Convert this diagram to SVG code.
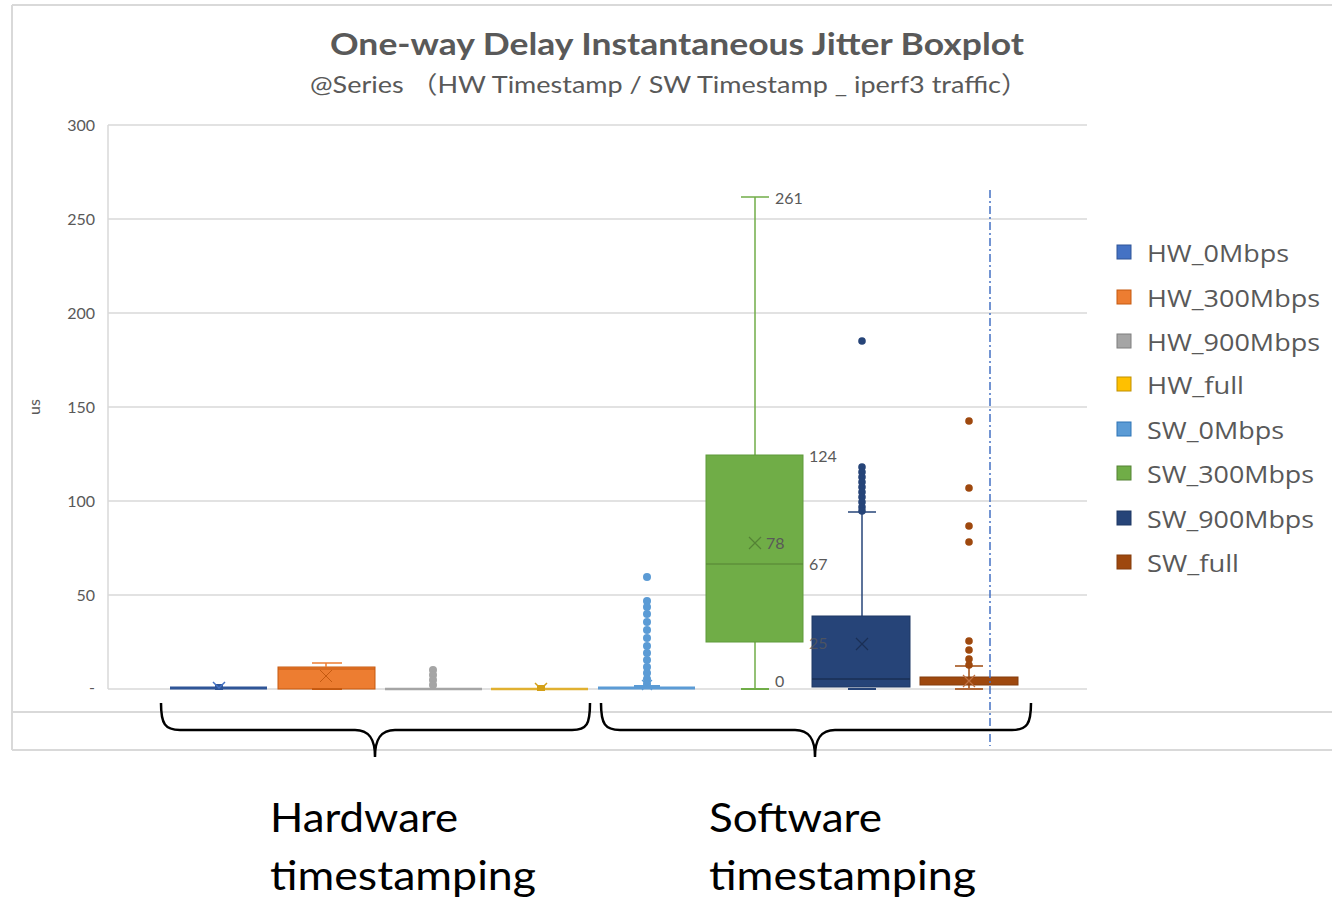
<svg xmlns="http://www.w3.org/2000/svg" width="1332" height="899" viewBox="0 0 1332 899">
<style>
.grid{stroke:#D9D9D9;stroke-width:1.5}
.frame{stroke:#D9D9D9;stroke-width:2;fill:none}
.tick{font-family:Lato,"Open Sans",sans-serif;font-size:16px;fill:#595959;text-anchor:end}
.lbl{font-family:Lato,"Open Sans",sans-serif;font-size:16px;fill:#595959}
.leg{font-family:"Open Sans",Lato,sans-serif;font-size:24px;fill:#595959}
.big{font-family:Lato,"Open Sans",sans-serif;font-size:40px;fill:#000}
.brace{fill:none;stroke:#000;stroke-width:2.5}
</style>
<rect width="1332" height="899" fill="#fff"/>
<g id="frame">
<line class="frame" x1="12" y1="5" x2="1332" y2="5"/>
<line class="frame" x1="12" y1="5" x2="12" y2="750"/>
<line class="frame" x1="12" y1="712" x2="1332" y2="712"/>
<line class="frame" x1="12" y1="750" x2="1332" y2="750"/>
</g>
<g id="title">
<text x="677" y="55" text-anchor="middle" font-family="Lato,'Open Sans',sans-serif" font-size="30" font-weight="bold" fill="#595959" textLength="694" lengthAdjust="spacingAndGlyphs">One-way Delay Instantaneous Jitter Boxplot</text>
<text x="669" y="93" text-anchor="middle" font-family="Lato,'Noto Sans CJK SC',sans-serif" font-size="24" fill="#595959" textLength="718" lengthAdjust="spacingAndGlyphs">@Series （HW Timestamp / SW Timestamp _  iperf3 traffic）</text>
</g>
<g id="axes">
<line class="grid" x1="108" y1="125" x2="1087" y2="125"/>
<line class="grid" x1="108" y1="219" x2="1087" y2="219"/>
<line class="grid" x1="108" y1="313" x2="1087" y2="313"/>
<line class="grid" x1="108" y1="407" x2="1087" y2="407"/>
<line class="grid" x1="108" y1="501" x2="1087" y2="501"/>
<line class="grid" x1="108" y1="595" x2="1087" y2="595"/>
<line class="grid" x1="108" y1="689" x2="1087" y2="689"/>
<line class="grid" x1="108" y1="125" x2="108" y2="689"/>
<text class="tick" x="95" y="131">300</text>
<text class="tick" x="95" y="225">250</text>
<text class="tick" x="95" y="319">200</text>
<text class="tick" x="95" y="413">150</text>
<text class="tick" x="95" y="507">100</text>
<text class="tick" x="95" y="601">50</text>
<text class="tick" x="95" y="693">-</text>
<text class="lbl" transform="translate(40,407) rotate(-90)" text-anchor="middle">us</text>
</g>
<g id="hw0">
<line x1="170" y1="688" x2="267" y2="688" stroke="#2F5597" stroke-width="3"/>
<rect x="215" y="684" width="8" height="6" fill="#2F5597"/>
<path d="M213,682 L219,688 L225,682" stroke="#4472C4" stroke-width="1.5" fill="none"/>
</g>
<g id="hw300">
<rect x="278" y="667" width="97" height="22" fill="#ED7D31" stroke="#C55A11" stroke-width="1"/>
<line x1="278" y1="669" x2="375" y2="669" stroke="#C55A11" stroke-width="1"/>
<line x1="326" y1="663" x2="326" y2="667" stroke="#ED7D31" stroke-width="1.5"/>
<line x1="312" y1="663" x2="342" y2="663" stroke="#ED7D31" stroke-width="1.5"/>
<line x1="312" y1="689" x2="342" y2="689" stroke="#C55A11" stroke-width="2"/>
<path d="M320,670 L332,682 M332,670 L320,682" stroke="#C55A11" stroke-width="1"/>
</g>
<g id="hw900">
<line x1="385" y1="689" x2="482" y2="689" stroke="#A5A5A5" stroke-width="2.5"/>
<g fill="#A5A5A5"><circle cx="433" cy="670" r="4"/><circle cx="433" cy="675" r="4"/><circle cx="433" cy="680" r="4"/><circle cx="433" cy="685" r="4"/></g>
</g>
<g id="hwfull">
<line x1="491" y1="689" x2="588" y2="689" stroke="#E0B030" stroke-width="2.5"/>
<rect x="537" y="685" width="8" height="6" fill="#D4A017"/>
<path d="M535,683 L541,689 L547,683" stroke="#D4A017" stroke-width="1.5" fill="none"/>
</g>
<g id="sw0">
<line x1="598" y1="688" x2="695" y2="688" stroke="#5B9BD5" stroke-width="3"/>
<line x1="634" y1="686" x2="660" y2="686" stroke="#5B9BD5" stroke-width="2"/>
<g fill="#5B9BD5">
<circle cx="647" cy="577" r="4"/><circle cx="647" cy="601" r="4"/><circle cx="647" cy="607" r="4"/><circle cx="647" cy="614" r="4"/><circle cx="647" cy="622" r="4"/><circle cx="647" cy="630" r="4"/><circle cx="647" cy="638" r="4"/><circle cx="647" cy="646" r="4"/><circle cx="647" cy="653" r="4"/><circle cx="647" cy="660" r="4"/><circle cx="647" cy="667" r="4"/><circle cx="647" cy="673" r="4"/><circle cx="647" cy="679" r="4"/><circle cx="647" cy="684" r="4"/>
</g>
<path d="M642,680 L652,690 M652,680 L642,690" stroke="#5B9BD5" stroke-width="1.2"/>
</g>
<g id="sw300">
<line x1="755" y1="197" x2="755" y2="455" stroke="#70AD47" stroke-width="1.5"/>
<line x1="741" y1="197" x2="769" y2="197" stroke="#70AD47" stroke-width="1.5"/>
<line x1="755" y1="642" x2="755" y2="689" stroke="#70AD47" stroke-width="1.5"/>
<line x1="741" y1="689" x2="769" y2="689" stroke="#70AD47" stroke-width="2"/>
<rect x="706" y="455" width="97" height="187" fill="#70AD47" stroke="#5E9A3A" stroke-width="1"/>
<line x1="706" y1="564" x2="803" y2="564" stroke="#548235" stroke-width="1.2"/>
<path d="M749,537 L761,549 M761,537 L749,549" stroke="#548235" stroke-width="1.2"/>
<text class="lbl" x="775" y="204">261</text>
<text class="lbl" x="809" y="462">124</text>
<text class="lbl" x="766" y="549">78</text>
<text class="lbl" x="809" y="570">67</text>
<text class="lbl" x="775" y="687">0</text>
</g>
<g id="sw900">
<line x1="862" y1="512" x2="862" y2="616" stroke="#264478" stroke-width="1.5"/>
<line x1="848" y1="512" x2="876" y2="512" stroke="#264478" stroke-width="1.5"/>
<line x1="848" y1="689" x2="876" y2="689" stroke="#264478" stroke-width="2"/>
<g fill="#264478">
<circle cx="862" cy="341" r="3.8"/>
<circle cx="862" cy="467" r="3.8"/><circle cx="862" cy="472" r="3.8"/><circle cx="862" cy="477" r="3.8"/><circle cx="862" cy="482" r="3.8"/><circle cx="862" cy="487" r="3.8"/><circle cx="862" cy="492" r="3.8"/><circle cx="862" cy="497" r="3.8"/><circle cx="862" cy="502" r="3.8"/><circle cx="862" cy="507" r="3.8"/><circle cx="862" cy="511" r="3.8"/>
</g>
<rect x="812" y="616" width="98" height="71" fill="#264478" stroke="#1F3864" stroke-width="1"/>
<line x1="812" y1="679" x2="910" y2="679" stroke="#1A2F55" stroke-width="1.5"/>
<path d="M856,638 L868,650 M868,638 L856,650" stroke="#1A2F55" stroke-width="1.2"/>
<text class="lbl" x="809" y="649" fill-opacity="0.75">25</text>
</g>
<g id="swfull">
<line x1="969" y1="666" x2="969" y2="689" stroke="#9E480E" stroke-width="1.5"/>
<line x1="955" y1="666" x2="983" y2="666" stroke="#9E480E" stroke-width="1.5"/>
<line x1="955" y1="689" x2="983" y2="689" stroke="#B0693A" stroke-width="2"/>
<g fill="#9E480E">
<circle cx="969" cy="421" r="3.8"/><circle cx="969" cy="488" r="3.8"/><circle cx="969" cy="526" r="3.8"/><circle cx="969" cy="542" r="3.8"/><circle cx="969" cy="641" r="3.8"/><circle cx="969" cy="650" r="3.8"/><circle cx="969" cy="659" r="3.8"/><circle cx="969" cy="665" r="3.8"/>
</g>
<rect x="920" y="677" width="98" height="8" fill="#9E480E" stroke="#843C0C" stroke-width="1"/>
<path d="M963,675 L975,687 M975,675 L963,687" stroke="#C07040" stroke-width="1.2"/>
</g>
<g id="connectors">
<line x1="990" y1="190" x2="990" y2="746" stroke="#4472C4" stroke-width="1.5" stroke-dasharray="8,3,2,3"/>
</g>
<g id="legend">
<rect x="1117" y="245" width="14" height="14" fill="#4472C4" stroke="#2F5597"/>
<rect x="1117" y="290" width="14" height="14" fill="#ED7D31" stroke="#C55A11"/>
<rect x="1117" y="334" width="14" height="14" fill="#A5A5A5" stroke="#7F7F7F"/>
<rect x="1117" y="377" width="14" height="14" fill="#FFC000" stroke="#BF9000"/>
<rect x="1117" y="422" width="14" height="14" fill="#5B9BD5" stroke="#2E75B6"/>
<rect x="1117" y="466" width="14" height="14" fill="#70AD47" stroke="#548235"/>
<rect x="1117" y="511" width="14" height="14" fill="#264478" stroke="#1F3864"/>
<rect x="1117" y="555" width="14" height="14" fill="#9E480E" stroke="#843C0C"/>
<text class="leg" x="1147" y="262" textLength="142" lengthAdjust="spacingAndGlyphs">HW_0Mbps</text>
<text class="leg" x="1147" y="307" textLength="173" lengthAdjust="spacingAndGlyphs">HW_300Mbps</text>
<text class="leg" x="1147" y="351" textLength="173" lengthAdjust="spacingAndGlyphs">HW_900Mbps</text>
<text class="leg" x="1147" y="394" textLength="97" lengthAdjust="spacingAndGlyphs">HW_full</text>
<text class="leg" x="1147" y="439" textLength="137" lengthAdjust="spacingAndGlyphs">SW_0Mbps</text>
<text class="leg" x="1147" y="483" textLength="167" lengthAdjust="spacingAndGlyphs">SW_300Mbps</text>
<text class="leg" x="1147" y="528" textLength="167" lengthAdjust="spacingAndGlyphs">SW_900Mbps</text>
<text class="leg" x="1147" y="572" textLength="92" lengthAdjust="spacingAndGlyphs">SW_full</text>
</g>
<g id="braces">
<path class="brace" d="M161,703 C161,724 165,730 180,730 L355,730 C370,730 375,740 375,757 C375,740 380,730 395,730 L572,730 C587,730 590,724 590,703"/>
<path class="brace" d="M601,703 C601,724 605,730 620,730 L795,730 C810,730 815,740 815,757 C815,740 820,730 835,730 L1012,730 C1027,730 1031,724 1031,703"/>
</g>
<g id="labels">
<text class="big" x="270" y="832" textLength="188" lengthAdjust="spacingAndGlyphs">Hardware</text>
<text class="big" x="270" y="890" textLength="266" lengthAdjust="spacingAndGlyphs">timestamping</text>
<text class="big" x="709" y="832" textLength="173" lengthAdjust="spacingAndGlyphs">Software</text>
<text class="big" x="709" y="890" textLength="267" lengthAdjust="spacingAndGlyphs">timestamping</text>
</g>
</svg>
